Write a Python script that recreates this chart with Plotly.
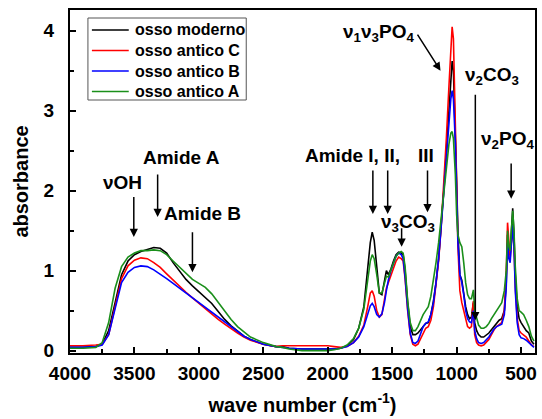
import plotly.graph_objects as go

wavenumber = [
    4000, 3900, 3800, 3750, 3700, 3650, 3600, 3550,
    3500, 3450, 3400, 3350, 3300, 3250, 3200, 3150,
    3100, 3050, 3000, 2950, 2900, 2850, 2800, 2750,
    2700, 2650, 2600, 2500, 2400, 2350, 2300, 2200, 2100, 2000,
    1950, 1900, 1850, 1800, 1760, 1720, 1690, 1670, 1655, 1640,
    1620, 1600, 1580, 1560, 1545, 1530, 1510, 1490, 1470, 1450, 1430,
    1415, 1400, 1380, 1360, 1340, 1320, 1300, 1280, 1260, 1240,
    1220, 1200, 1180, 1160, 1140, 1120, 1100, 1080, 1060, 1045,
    1035, 1025, 1010, 1000, 990, 975, 960, 945, 930, 915, 900,
    885, 875, 870, 860, 845, 830, 810, 790, 770, 750, 730, 710,
    690, 670, 650, 630, 615, 605, 595, 585, 575, 565, 555,
    545, 530, 515, 500, 480, 460, 440, 420, 400,
]

osso_moderno = [
    0.04, 0.04, 0.05, 0.08, 0.25, 0.62, 0.95, 1.12,
    1.20, 1.24, 1.27, 1.29, 1.28, 1.22, 1.10, 0.99,
    0.89, 0.81, 0.74, 0.67, 0.59, 0.49, 0.39, 0.31,
    0.24, 0.18, 0.14, 0.08, 0.05, 0.05, 0.03, 0.02, 0.02, 0.02,
    0.02, 0.03, 0.06, 0.14, 0.28, 0.55, 0.98, 1.35, 1.48, 1.38,
    1.05, 0.72, 0.70, 0.90, 1.00, 0.95, 1.02, 1.12, 1.20, 1.23, 1.22,
    1.20, 1.00, 0.60, 0.30, 0.20, 0.20, 0.22, 0.26, 0.30, 0.34,
    0.35, 0.45, 0.62, 0.85, 1.15, 1.55, 2.00, 2.50, 3.05, 3.45,
    3.62, 3.50, 2.80, 2.10, 1.50, 0.95, 0.88, 0.70, 0.55, 0.45, 0.40,
    0.42, 0.58, 0.60, 0.35, 0.25, 0.20, 0.17, 0.17, 0.19, 0.22, 0.26, 0.30,
    0.34, 0.38, 0.40, 0.50, 0.85, 1.45, 1.25, 1.20, 1.50, 1.78, 1.45,
    0.95, 0.55, 0.40, 0.35, 0.30, 0.25, 0.22, 0.12, 0.08,
]

osso_antico_C = [
    0.06, 0.06, 0.07, 0.08, 0.20, 0.55, 0.90, 1.06,
    1.13, 1.16, 1.15, 1.10, 1.04, 0.96, 0.88, 0.80,
    0.73, 0.66, 0.59, 0.52, 0.45, 0.39, 0.33, 0.27,
    0.22, 0.17, 0.13, 0.08, 0.05, 0.06, 0.06, 0.06, 0.06, 0.06,
    0.05, 0.04, 0.05, 0.10, 0.18, 0.32, 0.55, 0.72, 0.75, 0.68,
    0.50, 0.42, 0.45, 0.62, 0.78, 0.85, 0.95, 1.05, 1.12, 1.17, 1.15,
    1.12, 0.90, 0.50, 0.20, 0.08, 0.06, 0.08, 0.14, 0.22, 0.28,
    0.30, 0.38, 0.55, 0.80, 1.12, 1.55, 2.05, 2.65, 3.30, 3.80,
    4.05, 3.90, 3.00, 2.10, 1.30, 0.75, 0.60, 0.50, 0.38, 0.30, 0.28,
    0.30, 0.55, 0.62, 0.20, 0.10, 0.07, 0.06, 0.07, 0.10, 0.14, 0.20, 0.26,
    0.30, 0.33, 0.35, 0.50, 0.95, 1.60, 1.30, 1.15, 1.35, 1.55, 1.30,
    0.80, 0.40, 0.25, 0.22, 0.20, 0.17, 0.12, 0.07, 0.05,
]

osso_antico_B = [
    0.04, 0.04, 0.05, 0.07, 0.20, 0.52, 0.85, 0.98,
    1.04, 1.06, 1.05, 1.01, 0.96, 0.90, 0.84, 0.78,
    0.72, 0.66, 0.60, 0.54, 0.47, 0.41, 0.35, 0.29,
    0.23, 0.18, 0.14, 0.08, 0.05, 0.04, 0.03, 0.02, 0.02, 0.02,
    0.02, 0.03, 0.05, 0.10, 0.17, 0.30, 0.45, 0.56, 0.59, 0.55,
    0.45, 0.42, 0.46, 0.60, 0.75, 0.88, 1.00, 1.10, 1.18, 1.22, 1.20,
    1.15, 0.92, 0.52, 0.22, 0.10, 0.09, 0.12, 0.20, 0.30, 0.34,
    0.36, 0.45, 0.60, 0.85, 1.15, 1.55, 2.00, 2.45, 2.90, 3.15,
    3.25, 3.15, 2.60, 1.95, 1.35, 0.95, 0.85, 0.70, 0.50, 0.40, 0.36,
    0.35, 0.48, 0.50, 0.25, 0.15, 0.10, 0.09, 0.10, 0.13, 0.17, 0.22, 0.27,
    0.30, 0.32, 0.33, 0.45, 0.80, 1.35, 1.15, 1.10, 1.35, 1.57, 1.30,
    0.75, 0.35, 0.20, 0.16, 0.15, 0.13, 0.10, 0.06, 0.04,
]

osso_antico_A = [
    0.03, 0.03, 0.04, 0.10, 0.35, 0.78, 1.05, 1.17,
    1.22, 1.25, 1.25, 1.26, 1.25, 1.20, 1.12, 1.04,
    0.96, 0.89, 0.84, 0.79, 0.71, 0.60, 0.49, 0.39,
    0.30, 0.23, 0.17, 0.10, 0.05, 0.04, 0.02, 0.00, 0.00, 0.00,
    0.01, 0.03, 0.07, 0.15, 0.28, 0.52, 0.88, 1.12, 1.20, 1.15,
    0.95, 0.72, 0.72, 0.85, 0.93, 0.92, 1.00, 1.10, 1.18, 1.22, 1.24,
    1.22, 1.05, 0.62, 0.35, 0.25, 0.25, 0.30, 0.38, 0.45, 0.50,
    0.55, 0.68, 0.88, 1.10, 1.35, 1.65, 1.98, 2.30, 2.58, 2.72,
    2.74, 2.65, 2.20, 1.70, 1.45, 1.35, 1.30, 1.10, 0.85, 0.70, 0.65,
    0.65, 0.75, 0.76, 0.50, 0.40, 0.32, 0.28, 0.28, 0.30, 0.34, 0.40, 0.45,
    0.50, 0.55, 0.60, 0.75, 1.00, 1.50, 1.30, 1.25, 1.50, 1.75, 1.50,
    1.05, 0.65, 0.50, 0.48, 0.45, 0.38, 0.30, 0.18, 0.12,
]

series_names = ["osso moderno", "osso antico C", "osso antico B", "osso antico A"]
series_values = [osso_moderno, osso_antico_C, osso_antico_B, osso_antico_A]
series_colors = ["#000000", "#ff0000", "#0000ff", "#1a8f1a"]

FONT = "Liberation Sans, Arial, sans-serif"

W, H = 542, 419
ML, MR, MT, MB = 70, 5, 10, 66
PW, PH = W - ML - MR, H - MT - MB


def px2paper_x(px):
    return (px - ML) / PW


def px2paper_y(py):
    return (H - MB - py) / PH


fig = go.Figure()
for name, vals, col in zip(series_names, series_values, series_colors):
    fig.add_trace(go.Scatter(x=wavenumber, y=vals, mode="lines", name=name,
                             line=dict(color=col, width=1.6),
                             showlegend=False))

# legend box (drawn as shapes + text so its spacing matches the original)
fig.add_shape(type="rect", xref="paper", yref="paper",
              x0=px2paper_x(88), x1=px2paper_x(247),
              y0=px2paper_y(100), y1=px2paper_y(18),
              line=dict(color="#555555", width=1), fillcolor="#ffffff",
              layer="above")
row_y = [30, 50.5, 71, 91.5]
for name, col, ry in zip(series_names, series_colors, row_y):
    fig.add_shape(type="line", xref="paper", yref="paper",
                  x0=px2paper_x(92), x1=px2paper_x(129),
                  y0=px2paper_y(ry), y1=px2paper_y(ry),
                  line=dict(color=col, width=1.6), layer="above")
    fig.add_annotation(x=px2paper_x(133), y=px2paper_y(ry), xref="paper",
                       yref="paper", text=name, showarrow=False,
                       xanchor="left", yanchor="middle",
                       font=dict(family=FONT, size=16, color="#000000",
                                 weight="bold"))

# arrows: (tail_x, tail_y, head_x, head_y)
arrows = [
    (3505, 1.94, 3505, 1.42),   # vOH
    (3320, 2.22, 3320, 1.67),   # Amide A
    (3050, 1.50, 3050, 0.98),   # Amide B
    (1650, 2.27, 1650, 1.71),   # Amide I
    (1535, 2.27, 1535, 1.71),   # Amide II
    (1226, 2.27, 1226, 1.73),   # Amide III
    (1427, 1.55, 1427, 1.30),   # v3CO3
    (1311, 3.97, 1125, 3.50),   # v1v3PO4
    (855, 3.22, 855, 0.38),     # v2CO3
    (577, 2.36, 577, 1.90),     # v2PO4
]
for tx, ty, hx, hy in arrows:
    fig.add_annotation(x=hx, y=hy, ax=tx, ay=ty, xref="x", yref="y",
                       axref="x", ayref="y", text="", showarrow=True,
                       arrowhead=2, arrowsize=1.1, arrowwidth=1.5,
                       arrowcolor="#000000")

labels = [
    (3590, 2.10, "νOH"),
    (3135, 2.42, "Amide A"),
    (2972, 1.72, "Amide B"),
    (1805, 2.44, "Amide I, II,"),
    (1241, 2.44, "III"),
    (1375, 1.60, "ν<sub>3</sub>CO<sub>3</sub>"),
    (1604, 3.97, "ν<sub>1</sub>ν<sub>3</sub>PO<sub>4</sub>"),
    (728, 3.44, "ν<sub>2</sub>CO<sub>3</sub>"),
    (605, 2.63, "ν<sub>2</sub>PO<sub>4</sub>"),
]
for lx, ly, txt in labels:
    fig.add_annotation(x=lx, y=ly, xref="x", yref="y", text=txt,
                       showarrow=False,
                       font=dict(family=FONT, size=19, color="#000000",
                                 weight="bold"))

axis_common = dict(showline=True, linecolor="#000000", linewidth=2,
                   mirror=True, ticks="inside", ticklen=6, tickwidth=2,
                   tickcolor="#000000", showgrid=False, zeroline=False,
                   tickfont=dict(family=FONT, size=19, color="#000000",
                                 weight="bold"))

fig.update_xaxes(range=[4000, 392], tickmode="array",
                 tickvals=[4000, 3500, 3000, 2500, 2000, 1500, 1000, 500],
                 minor=dict(ticks="inside", ticklen=4, tickwidth=2,
                            tickcolor="#000000", dtick=250, tick0=0),
                 ticklabelstandoff=2,
                 title=dict(text="wave number (cm<sup>-1</sup>)", standoff=15,
                            font=dict(family=FONT, size=20, color="#000000",
                                      weight="bold")),
                 **axis_common)
fig.update_yaxes(range=[-0.03, 4.26], tickmode="array",
                 tickvals=[0, 1, 2, 3, 4],
                 minor=dict(ticks="inside", ticklen=4, tickwidth=2,
                            tickcolor="#000000", dtick=0.5, tick0=0),
                 ticklabelstandoff=10,
                 title=dict(text="absorbance", standoff=10,
                            font=dict(family=FONT, size=20, color="#000000",
                                      weight="bold")),
                 **axis_common)

fig.update_layout(
    width=W, height=H,
    margin=dict(l=ML, r=MR, t=MT, b=MB),
    paper_bgcolor="#ffffff", plot_bgcolor="#ffffff",
    showlegend=False,
)

fig.write_html("out.html")
